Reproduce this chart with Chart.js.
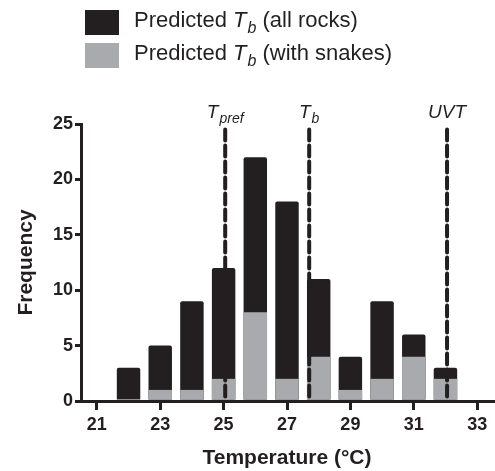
<!DOCTYPE html>
<html>
<head>
<meta charset="utf-8">
<script src="https://cdn.jsdelivr.net/npm/chart.js@4/dist/chart.umd.min.js"></script>
<style>
  html, body { margin: 0; padding: 0; background: #fff; }
  #wrap { width: 495px; height: 471px; }
</style>
</head>
<body>
<div id="wrap"><canvas id="chart" width="495" height="471"></canvas></div>
<script>
// ==== Data ====
const temps = [22, 23, 24, 25, 26, 27, 28, 29, 30, 31, 32];
const allRocks = [3, 5, 9, 12, 22, 18, 11, 4, 9, 6, 3];
const withSnakes = [0, 1, 1, 2, 8, 2, 4, 1, 2, 4, 2];
const xTicks = [21, 23, 25, 27, 29, 31, 33];
const yTicks = [0, 5, 10, 15, 20, 25];
const refValues = [25.05, 27.7, 32.05];
const refMain = ['T', 'T', 'UVT'];
const refSub = ['pref', 'b', ''];
const refTop = 24.5;

const FONT = "'Liberation Sans', Arial, sans-serif";
const DARK = '#231f20';
const GREY = '#a9aaad';

// draw "main" in italic with a subscript, centred or left aligned
function drawSubText(ctx, x, y, main, sub, size, center) {
  ctx.font = `italic ${size}px ${FONT}`;
  const w1 = ctx.measureText(main).width;
  ctx.font = `italic ${Math.round(size * 0.72)}px ${FONT}`;
  const w2 = sub ? ctx.measureText(sub).width + 1 : 0;
  const start = center ? x - (w1 + w2) / 2 : x;
  ctx.textAlign = 'left';
  ctx.textBaseline = 'alphabetic';
  ctx.font = `italic ${size}px ${FONT}`;
  ctx.fillText(main, start, y);
  if (sub) {
    ctx.font = `italic ${Math.round(size * 0.72)}px ${FONT}`;
    ctx.fillText(sub, start + w1 + 1, y + size * 0.28);
  }
  return start + w1 + w2;
}

const labelsPlugin = {
  id: 'labels',
  afterDraw(chart) {
    const ctx = chart.ctx;
    const xs = chart.scales.x;
    const ys = chart.scales.y;
    ctx.save();
    ctx.fillStyle = DARK;
    // labels on top of the reference lines
    refValues.forEach((v, i) => {
      drawSubText(ctx, xs.getPixelForValue(v), ys.getPixelForValue(refTop) - 12, refMain[i], refSub[i], 19, true);
    });

    // legend
    const items = [[DARK, '(all rocks)'], [GREY, '(with snakes)']];
    items.forEach((it, i) => {
      const top = 10 + i * 33;
      ctx.fillStyle = it[0];
      ctx.fillRect(85, top, 34, 25);
      ctx.fillStyle = DARK;
      ctx.font = `22px ${FONT}`;
      ctx.textAlign = 'left';
      ctx.textBaseline = 'alphabetic';
      const base = top + 17;
      ctx.fillText('Predicted ', 134, base);
      let x = 134 + ctx.measureText('Predicted ').width;
      x = drawSubText(ctx, x, base, 'T', 'b', 22, false);
      ctx.font = `22px ${FONT}`;
      ctx.fillText(' ' + it[1], x, base);
    });
    ctx.restore();
  }
};

const refSets = refValues.map(v => ({
  type: 'line',
  data: [{ x: v, y: refTop }, { x: v, y: 0 }],
  borderColor: DARK,
  borderWidth: 4,
  borderDash: [11, 5],
  borderCapStyle: 'round',
  pointRadius: 0,
  order: 0
}));

new Chart(document.getElementById('chart'), {
  type: 'bar',
  data: {
    datasets: [
      {
        label: 'Predicted Tb (all rocks)',
        data: temps.map((t, i) => ({ x: t, y: allRocks[i] })),
        backgroundColor: DARK,
        borderRadius: 2,
        grouped: false,
        order: 2
      },
      {
        label: 'Predicted Tb (with snakes)',
        data: temps.map((t, i) => ({ x: t, y: withSnakes[i] })),
        backgroundColor: GREY,
        grouped: false,
        order: 1
      },
      ...refSets
    ]
  },
  options: {
    responsive: false,
    animation: false,
    devicePixelRatio: 1,
    barPercentage: 0.74,
    categoryPercentage: 1,
    layout: { padding: { top: 124, right: 2, left: 14, bottom: 0 } },
    plugins: { legend: { display: false }, tooltip: { enabled: false } },
    scales: {
      x: {
        type: 'linear',
        min: 20.5,
        max: 33.5,
        offset: false,
        afterBuildTicks: s => { s.ticks = xTicks.map(v => ({ value: v })); },
        afterFit: s => { s.height = 70; },
        border: { color: DARK, width: 3 },
        grid: { offset: false, drawOnChartArea: false, drawTicks: true, tickLength: 9, color: DARK, lineWidth: 3 },
        ticks: { color: DARK, font: { family: FONT, size: 18, weight: 'bold' }, padding: 4, maxRotation: 0 },
        title: { display: true, text: 'Temperature (°C)', color: DARK, font: { family: FONT, size: 21, weight: 'bold' }, padding: 0 }
      },
      y: {
        min: 0,
        max: 25,
        afterBuildTicks: s => { s.ticks = yTicks.map(v => ({ value: v })); },
        afterFit: s => { s.width = 67; },
        border: { color: DARK, width: 3 },
        grid: { drawOnChartArea: false, drawTicks: true, tickLength: 6, color: DARK, lineWidth: 3 },
        ticks: { color: DARK, font: { family: FONT, size: 18, weight: 'bold' }, padding: 2 },
        title: { display: true, text: 'Frequency', color: DARK, font: { family: FONT, size: 21, weight: 'bold' }, padding: 0 }
      }
    }
  },
  plugins: [labelsPlugin]
});
</script>
</body>
</html>
